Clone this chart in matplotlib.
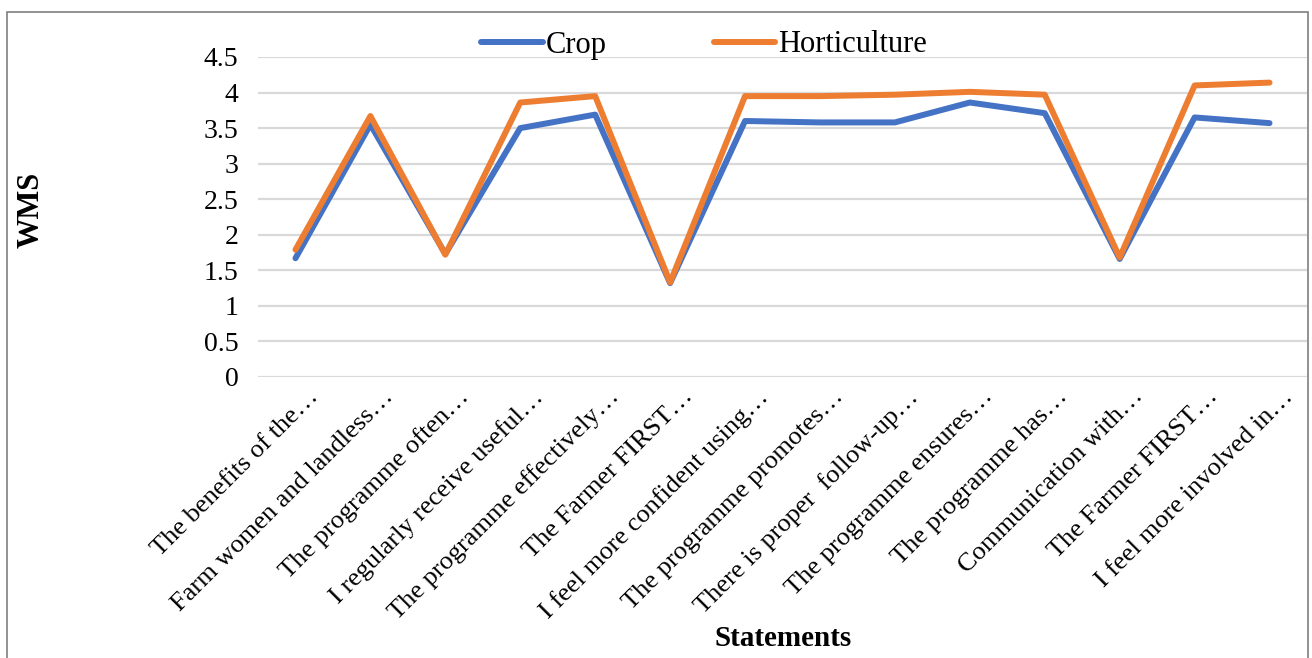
import matplotlib
matplotlib.use('Agg')
import matplotlib.pyplot as plt
import matplotlib.transforms as mtransforms
from matplotlib.patches import Rectangle

# statements (truncated as in the chart)
statements = [
    "The benefits of the\u2026",
    "Farm women and landless\u2026",
    "The programme often\u2026",
    "I regularly receive useful\u2026",
    "The programme effectively\u2026",
    "The Farmer FIRST\u2026",
    "I feel more confident using\u2026",
    "The programme promotes\u2026",
    "There is proper  follow-up\u2026",
    "The programme ensures\u2026",
    "The programme has\u2026",
    "Communication with\u2026",
    "The Farmer FIRST\u2026",
    "I feel more involved in\u2026",
]
crop = [1.67, 3.55, 1.73, 3.50, 3.69, 1.32, 3.60, 3.58, 3.58, 3.86, 3.71, 1.66, 3.65, 3.57]
horticulture = [1.79, 3.67, 1.72, 3.86, 3.95, 1.33, 3.95, 3.95, 3.97, 4.01, 3.97, 1.68, 4.10, 4.14]
yticks = [0, 0.5, 1, 1.5, 2, 2.5, 3, 3.5, 4, 4.5]
ytick_labels = ["0", "0.5", "1", "1.5", "2", "2.5", "3", "3.5", "4", "4.5"]

plt.rcParams['font.family'] = ['Liberation Serif', 'DejaVu Serif']

W, H = 1312, 658
fig = plt.figure(figsize=(W / 100, H / 100), dpi=100)
ax = fig.add_axes([258 / W, 1 - 377 / H, 1049 / W, 320 / H])

x = list(range(len(statements)))
ax.plot(x, crop, color='#4472C4', lw=4.3, label='Crop',
        solid_capstyle='round', solid_joinstyle='round', zorder=3)
ax.plot(x, horticulture, color='#ED7D31', lw=4.3, label='Horticulture',
        solid_capstyle='round', solid_joinstyle='round', zorder=4)

ax.set_xlim(-0.5, len(statements) - 0.5)
ax.set_ylim(0, 4.5)
ax.set_yticks(yticks)
ax.set_yticklabels(ytick_labels, fontsize=20)
ax.set_xticks(x)
ax.set_xticklabels([])
ax.tick_params(axis='both', length=0)
ax.tick_params(axis='y', pad=14)
ax.grid(axis='y', color='#D9D9D9', lw=1.6)
ax.set_axisbelow(True)
for s in ax.spines.values():
    s.set_visible(False)

# rotated category labels, placed a little right of each tick like the original
lab_tr = ax.get_xaxis_transform() + mtransforms.ScaledTranslation(
    0.12, -0.085, fig.dpi_scale_trans)
for i, s in zip(x, statements):
    ax.text(i, 0, s, transform=lab_tr, fontsize=19, rotation=45,
            ha='right', va='top', rotation_mode='anchor')

fig.legend(loc='center', bbox_to_anchor=(704 / W, 1 - 45 / H), ncol=2,
           frameon=False, fontsize=22, handlelength=2.0, handletextpad=0.1,
           columnspacing=3.5, borderaxespad=0)

fig.text(31 / W, 1 - 210 / H, 'WMS', rotation=90, fontsize=22, fontweight='bold',
         ha='center', va='center')
fig.text(783 / W, 1 - 638 / H, 'Statements', fontsize=21, fontweight='bold',
         ha='center', va='center')

# outer frame of the chart area
fig.patches.append(Rectangle((7 / W, -0.1), 1301 / W, 1.1 - 12 / H,
                             transform=fig.transFigure, fill=False,
                             edgecolor='#7F7F7F', lw=1.2))

fig.savefig('out.png', dpi=100)
